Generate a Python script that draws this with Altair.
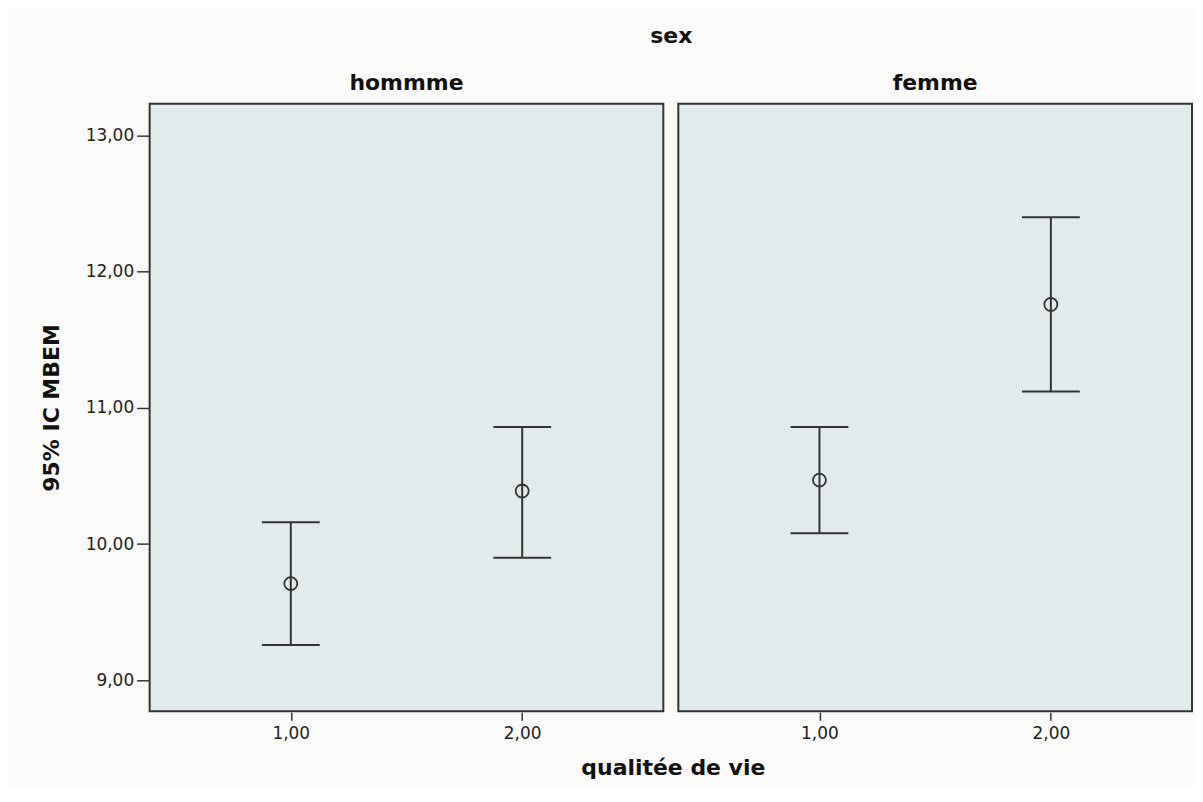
import altair as alt
import pandas as pd

# data
sexes = ["hommme", "hommme", "femme", "femme"]
qualite = [1, 2, 1, 2]
means = [9.71, 10.39, 10.47, 11.76]
lows = [9.26, 9.90, 10.08, 11.12]
highs = [10.16, 10.86, 10.86, 12.40]
y_ticks = [9, 10, 11, 12, 13]
x_ticks = [1, 2]
sex_order = ["hommme", "femme"]

df = pd.DataFrame({"sex": sexes, "q": qualite, "mean": means, "low": lows, "high": highs})

LINE = "#333333"
FONT = "DejaVu Sans"
fmt = "replace(format(datum.value, '.2f'), '.', ',')"

xenc = alt.X(
    "q:Q",
    scale=alt.Scale(domain=[0.39, 2.61], nice=False, zero=False),
    axis=alt.Axis(values=x_ticks, labelExpr=fmt, title=None),
)
yscale = alt.Scale(domain=[8.773, 13.234], nice=False, zero=False)
yaxis = alt.Axis(values=y_ticks, labelExpr=fmt, title="95% IC MBEM")

base = alt.Chart(df).encode(x=xenc)

rule = base.mark_rule(color=LINE, strokeWidth=2).encode(
    y=alt.Y("low:Q", scale=yscale, axis=yaxis), y2="high:Q"
)
cap_lo = base.mark_tick(orient="horizontal", size=58, thickness=2, color=LINE, opacity=1).encode(
    y=alt.Y("low:Q", scale=yscale, axis=yaxis)
)
cap_hi = base.mark_tick(orient="horizontal", size=58, thickness=2, color=LINE, opacity=1).encode(
    y=alt.Y("high:Q", scale=yscale, axis=yaxis)
)
pts = base.mark_point(shape="circle", size=170, filled=False, strokeWidth=1.8, color=LINE, opacity=1).encode(
    y=alt.Y("mean:Q", scale=yscale, axis=yaxis)
)

layer = alt.layer(rule, cap_lo, cap_hi, pts).properties(width=515, height=609)

chart = (
    layer.facet(
        column=alt.Column(
            "sex:N",
            sort=sex_order,
            title="sex",
            header=alt.Header(
                titleFont=FONT,
                titleFontSize=22,
                titleFontWeight="bold",
                titleColor="#111",
                titlePadding=14,
                labelFont=FONT,
                labelFontSize=22,
                labelFontWeight="bold",
                labelColor="#111",
                labelPadding=8,
            ),
        ),
        spacing=13,
    )
    .properties(
        background="#FAFAF8",
        padding={"left": 32, "top": 16, "right": 2, "bottom": 5},
        title=alt.TitleParams(
            "qualitée de vie",
            orient="bottom",
            anchor="middle",
            frame="group",
            dx=525,
            font=FONT,
            fontSize=22,
            fontWeight="bold",
            color="#111",
            offset=17,
        ),
    )
    .configure_view(fill="#E1EBEC", stroke=LINE, strokeWidth=2)
    .configure_axis(
        grid=False,
        domain=False,
        labelFont=FONT,
        labelFontSize=17,
        labelColor="#222",
        tickColor=LINE,
        tickWidth=1.5,
        titleFont=FONT,
        titleFontSize=22,
        titleFontWeight="bold",
        titleColor="#111",
    )
    .configure_axisY(tickSize=12, labelPadding=3, titlePadding=22)
    .configure_axisX(tickSize=8, labelPadding=5)
)

chart.save("out.html", embed_options={"renderer": "svg", "actions": False})
